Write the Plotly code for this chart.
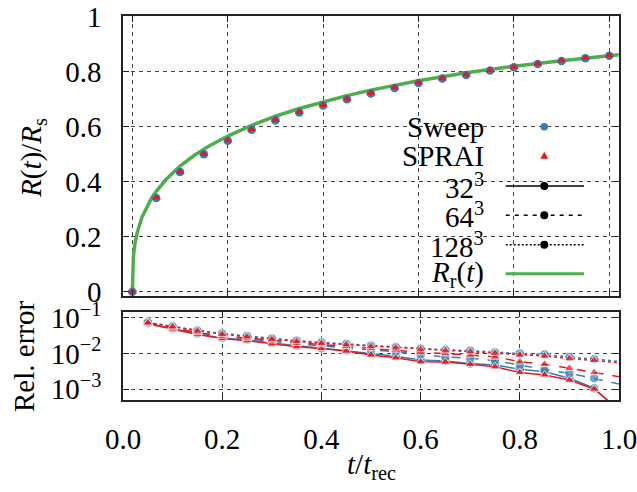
import plotly.graph_objects as go

# ---------------- data ----------------
t_top = [0.00, 0.05, 0.10, 0.15, 0.20, 0.25, 0.30, 0.35, 0.40, 0.45, 0.50,
         0.55, 0.60, 0.65, 0.70, 0.75, 0.80, 0.85, 0.90, 0.95, 1.00]
R_sweep = [0.000, 0.341, 0.435, 0.500, 0.549, 0.589, 0.623, 0.652, 0.677, 0.700, 0.721,
           0.741, 0.759, 0.775, 0.788, 0.804, 0.816, 0.828, 0.839, 0.849, 0.858]
R_sprai = [0.000, 0.342, 0.436, 0.501, 0.550, 0.590, 0.624, 0.653, 0.678, 0.701, 0.722,
           0.742, 0.760, 0.776, 0.789, 0.805, 0.817, 0.829, 0.840, 0.850, 0.859]

t_curve = [0.0, 0.0001, 0.0003, 0.001, 0.002, 0.005, 0.01, 0.02, 0.03, 0.04, 0.05, 0.07,
           0.10, 0.13, 0.16, 0.20, 0.25, 0.30, 0.35, 0.40, 0.45, 0.50, 0.60, 0.70,
           0.80, 0.90, 1.00, 1.02]
R_curve = [0.0, 0.046, 0.067, 0.0999, 0.126, 0.171, 0.215, 0.2705, 0.309, 0.340, 0.365, 0.407,
           0.457, 0.496, 0.529, 0.566, 0.605, 0.638, 0.666, 0.691, 0.713, 0.733, 0.767, 0.796,
           0.820, 0.840, 0.858, 0.8615]

t_err = [0.05, 0.10, 0.15, 0.20, 0.25, 0.30, 0.35, 0.40, 0.45, 0.50,
         0.55, 0.60, 0.65, 0.70, 0.75, 0.80, 0.85, 0.90, 0.95, 1.00]
err_sweep_32 = [0.0692, 0.0490, 0.0355, 0.0269, 0.0240, 0.0195, 0.0166, 0.0141, 0.0123, 0.0100,
                0.00832, 0.00661, 0.00617, 0.00525, 0.00479, 0.00363, 0.00309, 0.00204, 0.00107, 0.000251]
err_sprai_32 = [0.0676, 0.0468, 0.0339, 0.0263, 0.0229, 0.0186, 0.0155, 0.0138, 0.0117, 0.00912,
                0.00759, 0.00589, 0.00575, 0.00501, 0.00427, 0.00295, 0.00251, 0.00182, 0.00102, 0.000263]
err_sweep_64 = [0.0708, 0.0513, 0.0380, 0.0302, 0.0263, 0.0219, 0.0186, 0.0166, 0.0148, 0.0126,
                0.0112, 0.00933, 0.00794, 0.00741, 0.00631, 0.00479, 0.00347, 0.00282, 0.00204, 0.00141]
err_sprai_64 = [0.0708, 0.0525, 0.0389, 0.0309, 0.0269, 0.0229, 0.0195, 0.0178, 0.0158, 0.0138,
                0.0126, 0.0107, 0.0100, 0.00912, 0.00813, 0.00589, 0.00501, 0.00389, 0.00295, 0.00224]
err_sweep_128 = [0.0741, 0.0575, 0.0437, 0.0363, 0.0309, 0.0263, 0.0229, 0.0204, 0.0186, 0.0166,
                 0.0151, 0.0135, 0.0126, 0.0120, 0.0107, 0.0100, 0.00933, 0.00794, 0.00692, 0.00603]
err_sprai_128 = [0.0724, 0.0562, 0.0427, 0.0347, 0.0295, 0.0251, 0.0219, 0.0195, 0.0178, 0.0158,
                 0.0145, 0.0129, 0.0120, 0.0112, 0.0102, 0.00912, 0.00851, 0.00724, 0.00646, 0.00550]

top_xticks = [0.0, 0.2, 0.4, 0.6, 0.8, 1.0]
top_yticks = [0.0, 0.2, 0.4, 0.6, 0.8, 1.0]
top_ytext = ["0", "0.2", "0.4", "0.6", "0.8", "1"]
bot_xticks = [0.0, 0.2, 0.4, 0.6, 0.8, 1.0]
bot_xtext = ["0.0", "0.2", "0.4", "0.6", "0.8", "1.0"]
bot_yticks = [1e-3, 1e-2, 1e-1]
bot_ytext = ["10<sup>−3</sup>", "10<sup>−2</sup>", "10<sup>−1</sup>"]

legend_labels = ["Sweep", "SPRAI", "32<sup>3</sup>", "64<sup>3</sup>", "128<sup>3</sup>",
                 "<i>R</i><sub>r</sub>(<i>t</i>)"]

# ---------------- styles ----------------
BLUE = "#377eb8"
RED = "#e41a1c"
GREEN = "#4daf4a"
FONT = "Liberation Serif"
FS = 29

W, H = 637, 492
# plot area in screen pixels
X_L, X_R, Y_T, Y_B = 123, 619, 16, 400
ML, MT = X_L, Y_T
MR = W - X_R
MB = H - Y_B
PW, PH = X_R - X_L, Y_B - Y_T


def px(x):
    return (x - X_L) / PW


def py(y):
    return (Y_B - y) / PH


fig = go.Figure()

# top panel
fig.add_trace(go.Scatter(x=t_curve, y=R_curve, mode="lines", xaxis="x2", yaxis="y2",
                         line=dict(color=GREEN, width=3.5), showlegend=False, cliponaxis=True))
fig.add_trace(go.Scatter(x=t_top, y=R_sweep, mode="markers", xaxis="x2", yaxis="y2",
                         marker=dict(color=BLUE, size=8.5, symbol="circle"), showlegend=False))
fig.add_trace(go.Scatter(x=t_top, y=R_sprai, mode="markers", xaxis="x2", yaxis="y2",
                         marker=dict(color=RED, size=7.5, symbol="triangle-up"), showlegend=False))

# bottom panel
n_pts = len(t_err)
size_c = [9.5] * (n_pts - 1) + [0]
size_t = [9] * (n_pts - 1) + [0]
for ys, dash in [(err_sweep_32, "solid"), (err_sweep_64, "dash"), (err_sweep_128, "dot")]:
    fig.add_trace(go.Scatter(x=t_err, y=ys, mode="lines+markers", xaxis="x", yaxis="y",
                             line=dict(color=BLUE, width=1.5, dash=dash),
                             marker=dict(color=BLUE, size=size_c, symbol="circle"),
                             showlegend=False))
for ys, dash in [(err_sprai_32, "solid"), (err_sprai_64, "dash"), (err_sprai_128, "dot")]:
    fig.add_trace(go.Scatter(x=t_err, y=ys, mode="lines+markers", xaxis="x", yaxis="y",
                             line=dict(color=RED, width=1.5, dash=dash),
                             marker=dict(color=RED, size=size_t, symbol="triangle-up"),
                             showlegend=False))

axis_common = dict(showgrid=True, gridcolor="#444", gridwidth=1, griddash="4px,4px",
                   showline=True, linecolor="#222", linewidth=1.5, mirror="allticks",
                   ticks="inside", ticklen=6, tickcolor="#222", zeroline=False,
                   automargin=False, ticklabeloverflow="allow",
                   tickfont=dict(family=FONT, size=FS, color="black"))

top_dom = [py(296), 1.0]
bot_dom = [0.0, py(311.7)]

fig.update_layout(
    width=W, height=H,
    margin=dict(l=ML, r=MR, t=MT, b=MB, autoexpand=False),
    paper_bgcolor="white", plot_bgcolor="white",
    showlegend=False,
    xaxis=dict(domain=[0, 1], range=[0, 1], anchor="y", tickvals=bot_xticks, ticktext=bot_xtext,
               ticklabelstandoff=12, **axis_common),
    yaxis=dict(domain=bot_dom, type="log", range=[-3.299, -0.832], anchor="x",
               tickvals=bot_yticks, ticktext=bot_ytext, ticklabelstandoff=14, **axis_common),
    xaxis2=dict(domain=[0, 1], range=[-0.0197, 1.0205], anchor="y2", tickvals=top_xticks,
                showticklabels=False, **axis_common),
    yaxis2=dict(domain=top_dom, range=[-0.0156, 1.0025], anchor="x2",
                tickvals=top_yticks, ticktext=top_ytext, ticklabelstandoff=14, **axis_common),
)

# axis titles
ann = []
ann.append(dict(text="<i>R</i>(<i>t</i>)/<i>R</i><sub>s</sub>", x=px(33), y=py(158),
                xref="paper", yref="paper", xanchor="center", yanchor="middle",
                textangle=-90, showarrow=False, font=dict(family=FONT, size=FS, color="black")))
ann.append(dict(text="Rel. error", x=px(24), y=py(357),
                xref="paper", yref="paper", xanchor="center", yanchor="middle",
                textangle=-90, showarrow=False, font=dict(family=FONT, size=FS, color="black")))
ann.append(dict(text="<i>t</i>/<i>t</i><sub>rec</sub>", x=px(371), y=py(466),
                xref="paper", yref="paper", xanchor="center", yanchor="middle",
                showarrow=False, font=dict(family=FONT, size=FS, color="black")))

# legend (manual, text right-aligned with symbols on the right)
rows = [126.7, 155.7, 186.0, 215.3, 244.7, 273.7]
shapes = []
shapes.append(dict(type="rect", xref="paper", yref="paper", x0=px(372), x1=px(596),
                   y0=py(288), y1=py(112), fillcolor="white", line=dict(width=0), layer="between"))
for lab, ry in zip(legend_labels, rows):
    ann.append(dict(text=lab, x=px(486), y=py(ry), xref="paper", yref="paper",
                    xanchor="right", yanchor="middle", showarrow=False,
                    font=dict(family=FONT, size=FS, color="black")))

sx = px(544.3)
# Sweep circle
shapes.append(dict(type="circle", xref="paper", yref="paper", xsizemode="pixel", ysizemode="pixel",
                   xanchor=sx, yanchor=py(rows[0]), x0=-3.8, x1=3.8, y0=-3.8, y1=3.8,
                   fillcolor=BLUE, line=dict(width=0), layer="above"))
# SPRAI triangle
shapes.append(dict(type="path", xref="paper", yref="paper", xsizemode="pixel", ysizemode="pixel",
                   xanchor=sx, yanchor=py(rows[1]), path="M -4,-3 L 4,-3 L 0,4 Z",
                   fillcolor=RED, line=dict(width=0), layer="above"))
for ry, dash in zip(rows[2:5], ["solid", "4px,5px", "2px,2px"]):
    shapes.append(dict(type="line", xref="paper", yref="paper", x0=px(505.7), x1=px(584),
                       y0=py(ry), y1=py(ry), line=dict(color="black", width=1.5, dash=dash),
                       layer="above"))
    shapes.append(dict(type="circle", xref="paper", yref="paper", xsizemode="pixel",
                       ysizemode="pixel", xanchor=sx, yanchor=py(ry), x0=-4, x1=4, y0=-4, y1=4,
                       fillcolor="black", line=dict(width=0), layer="above"))
shapes.append(dict(type="line", xref="paper", yref="paper", x0=px(505.7), x1=px(584),
                   y0=py(rows[5]), y1=py(rows[5]), line=dict(color=GREEN, width=3),
                   layer="above"))

fig.update_layout(annotations=ann, shapes=shapes)

fig.write_html("out.html", config={"displayModeBar": False},
               post_script="document.body.style.margin='0';document.body.style.overflow='hidden';")
